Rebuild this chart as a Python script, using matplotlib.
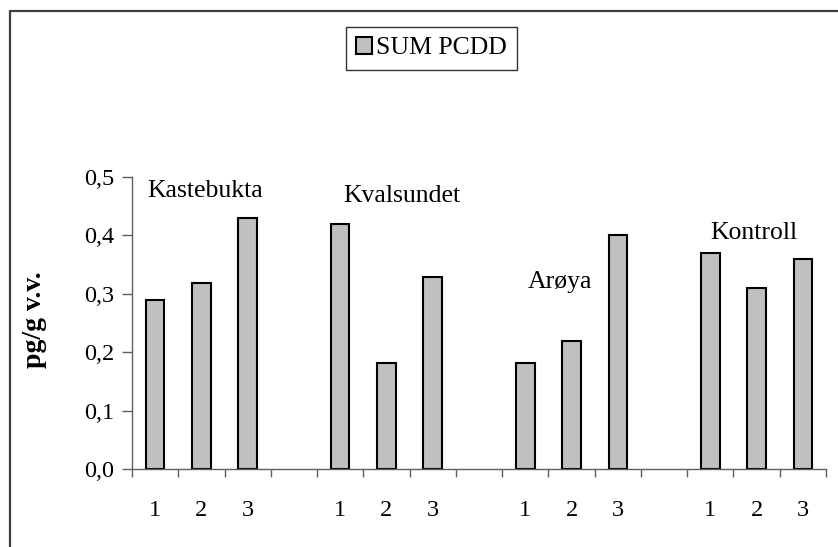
import matplotlib
matplotlib.use("Agg")
import matplotlib.pyplot as plt
from matplotlib.patches import Rectangle

# Verdier lest av figuren (pg/g v.v.)
grupper = ["Kastebukta", "Kvalsundet", "Arøya", "Kontroll"]
kastebukta = [0.29, 0.318, 0.43]
kvalsundet = [0.42, 0.182, 0.328]
aroya = [0.182, 0.22, 0.40]
kontroll = [0.37, 0.31, 0.36]
stasjoner = ["1", "2", "3"]
serie_navn = "SUM PCDD"

y_ticks = [0.0, 0.1, 0.2, 0.3, 0.4, 0.5]
y_ticklabels = ["0,0", "0,1", "0,2", "0,3", "0,4", "0,5"]

# Plassering av gruppenavnene (data-koordinater)
navn_x = [-0.18, 4.06, 8.06, 11.99]
navn_y = [0.466, 0.457, 0.310, 0.394]

plt.rcParams["font.family"] = ["Liberation Serif", "DejaVu Serif"]

fig = plt.figure(figsize=(8.38, 5.47), dpi=100)
ax = fig.add_axes([132 / 838, 1 - 469 / 547, 694 / 838, 292 / 547])

# Ramme rundt hele diagrammet
fig.patches.append(Rectangle((10 / 838, -0.05), 1.0, 1 - 11 / 547 + 0.05,
                             transform=fig.transFigure, fill=False,
                             edgecolor="#404040", linewidth=1.6, zorder=0))

alle = [kastebukta, kvalsundet, aroya, kontroll]
posisjoner = []
etiketter = []
for i, verdier in enumerate(alle):
    xs = [i * 4 + j for j in range(len(verdier))]
    ax.bar(xs, verdier, width=0.4, color="#C0C0C0", edgecolor="black",
           linewidth=1.5, label=serie_navn if i == 0 else None)
    posisjoner += xs
    etiketter += stasjoner

for navn, x, y in zip(grupper, navn_x, navn_y):
    ax.text(x, y, navn, fontsize=18.5, ha="left", va="baseline")

ax.set_xlim(-0.5, 14.5)
ax.set_ylim(0, 0.5)

# Etiketter i midten, tickmerker mellom kategoriene
ax.set_xticks(posisjoner)
ax.set_xticklabels(etiketter, fontsize=17.5)
ax.set_xticks([k + 0.5 for k in range(-1, 15)], minor=True)
ax.tick_params(axis="x", which="major", length=0, pad=22)
ax.tick_params(axis="x", which="minor", length=6, width=1, color="#606060",
               direction="out")

ax.set_yticks(y_ticks)
ax.set_yticklabels(y_ticklabels, fontsize=17.5)
ax.tick_params(axis="y", length=7, width=1, color="#606060", pad=6)

for side in ["top", "right"]:
    ax.spines[side].set_visible(False)
for side in ["left", "bottom"]:
    ax.spines[side].set_color("#606060")
    ax.spines[side].set_linewidth(1)

ax.set_ylabel("pg/g v.v.", fontsize=20, fontweight="bold")
ax.yaxis.set_label_coords(-0.122, 0.51)

leg = fig.legend(loc="upper left", bbox_to_anchor=(346 / 838, 1 - 27 / 547),
                 fontsize=18.5, frameon=True, fancybox=False, shadow=False,
                 handlelength=0.6, handleheight=0.6, handletextpad=0.15,
                 borderpad=0.4, borderaxespad=0)
leg.get_frame().set_edgecolor("black")
leg.get_frame().set_linewidth(1)

fig.savefig("out.png", dpi=100)
